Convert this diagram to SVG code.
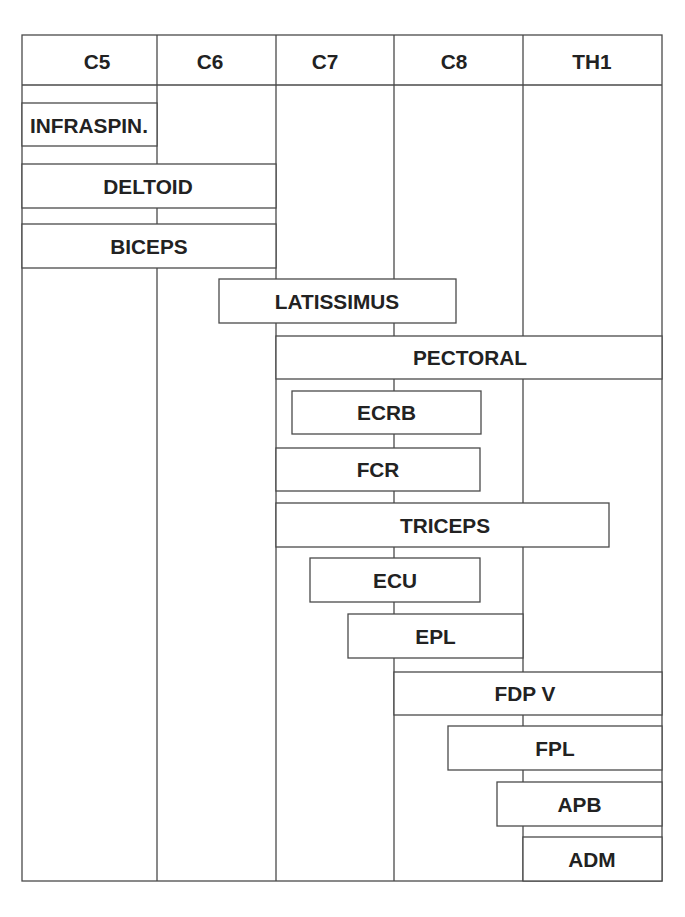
<svg xmlns="http://www.w3.org/2000/svg" width="685" height="917" viewBox="0 0 685 917">
<style>
.ln{stroke:#4a4a4a;stroke-width:1.3;fill:none}
.bx{stroke:#4a4a4a;stroke-width:1.3;fill:#fff}
.t{font-family:"Liberation Sans",Arial,sans-serif;font-weight:bold;font-size:20.8px;fill:#222;text-anchor:middle}
</style>
<rect width="685" height="917" fill="#fff"/>
<g id="grid">
<rect class="ln" x="22" y="35" width="640" height="846"/>
<line class="ln" x1="22" y1="85" x2="662" y2="85"/>
<line class="ln" x1="157" y1="35" x2="157" y2="881"/>
<line class="ln" x1="276" y1="35" x2="276" y2="881"/>
<line class="ln" x1="394" y1="35" x2="394" y2="881"/>
<line class="ln" x1="523" y1="35" x2="523" y2="881"/>
<text class="t" x="97" y="69">C5</text>
<text class="t" x="210" y="69">C6</text>
<text class="t" x="325" y="69">C7</text>
<text class="t" x="454" y="69">C8</text>
<text class="t" x="592" y="69">TH1</text>
</g>
<g id="infraspin"><rect class="bx" x="22" y="103" width="135" height="43"/><text class="t" x="89" y="132.5">INFRASPIN.</text></g>
<g id="deltoid"><rect class="bx" x="22" y="164" width="254" height="44"/><text class="t" x="148" y="193.5">DELTOID</text></g>
<g id="biceps"><rect class="bx" x="22" y="224" width="254" height="44"/><text class="t" x="149" y="253.5">BICEPS</text></g>
<g id="latissimus"><rect class="bx" x="219" y="279" width="237" height="44"/><text class="t" x="337" y="308.5">LATISSIMUS</text></g>
<g id="pectoral"><rect class="bx" x="276" y="336" width="386" height="43"/><text class="t" x="470" y="364.5">PECTORAL</text></g>
<g id="ecrb"><rect class="bx" x="292" y="391" width="189" height="43"/><text class="t" x="386.5" y="419.5">ECRB</text></g>
<g id="fcr"><rect class="bx" x="276" y="448" width="204" height="43"/><text class="t" x="378" y="476.5">FCR</text></g>
<g id="triceps"><rect class="bx" x="276" y="503" width="333" height="44"/><text class="t" x="445" y="532.5">TRICEPS</text></g>
<g id="ecu"><rect class="bx" x="310" y="558" width="170" height="44"/><text class="t" x="395" y="587.5">ECU</text></g>
<g id="epl"><rect class="bx" x="348" y="614" width="175" height="44"/><text class="t" x="435.5" y="643.5">EPL</text></g>
<g id="fdpv"><rect class="bx" x="394" y="672" width="268" height="43"/><text class="t" x="525" y="700.5">FDP V</text></g>
<g id="fpl"><rect class="bx" x="448" y="726" width="214" height="44"/><text class="t" x="555" y="755.5">FPL</text></g>
<g id="apb"><rect class="bx" x="497" y="782" width="165" height="44"/><text class="t" x="579.5" y="811.5">APB</text></g>
<g id="adm"><rect class="bx" x="523" y="837" width="139" height="44"/><text class="t" x="592" y="866.5">ADM</text></g>
<g id="connectors"/>
</svg>
